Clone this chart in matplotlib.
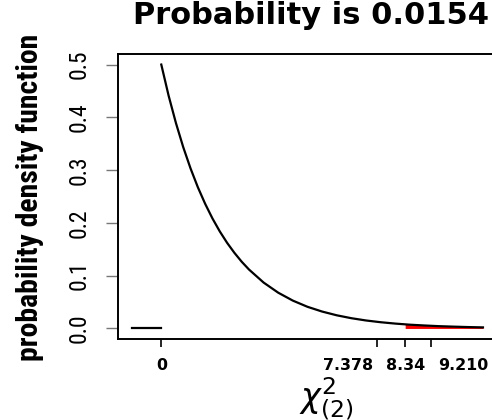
import matplotlib
matplotlib.use("Agg")
import matplotlib.pyplot as plt
from matplotlib.transforms import blended_transform_factory

# chi-square(2) density, read at a set of points along the curve
curve_x = [0.0, 0.25, 0.5, 0.75, 1.0, 1.25, 1.5, 1.75, 2.0, 2.25, 2.5, 2.75,
           3.0, 3.5, 4.0, 4.5, 5.0, 5.5, 6.0, 6.5, 7.0, 7.5, 8.0, 8.5,
           9.0, 9.5, 10.0, 10.5, 11.0]
curve_y = [0.5, 0.4412, 0.3894, 0.3436, 0.3033, 0.2676, 0.2362, 0.2084,
           0.1839, 0.1623, 0.1433, 0.1264, 0.1116, 0.0869, 0.0677, 0.0527,
           0.0410, 0.0320, 0.0249, 0.0194, 0.0151, 0.0118, 0.0092, 0.0071,
           0.0056, 0.0043, 0.0034, 0.0026, 0.0020]

# zero density to the left of the support
left_x = [-1.0, 0.0]
left_y = [0.0, 0.0]

# shaded upper tail starting at the observed statistic
stat = 8.34
stat_density = 0.0077
prob = 0.0154

tick_vals = [0, 7.378, 8.34, 9.210]
tick_text = ["0", "7.378", "8.34", "9.210"]
label_shift = [0, -1.0, 0, 1.1]   # nudge crowded labels apart

yticks = [0.0, 0.1, 0.2, 0.3, 0.4, 0.5]

NARROW = ["Roboto Condensed", "Liberation Sans Narrow", "Archivo Narrow", "DejaVu Sans"]

W, H = 492, 420
fig = plt.figure(figsize=(W / 100, H / 100), dpi=100)
ax = fig.add_axes([118 / W, 1 - 339 / H, (497 - 118) / W, (339 - 54) / H])

ax.plot(curve_x, curve_y, color="black", lw=1.6, zorder=3)
ax.plot(left_x, left_y, color="black", lw=1.6, zorder=3)

tail_x = [stat] + [x for x in curve_x if x > stat]
tail_y = [stat_density] + [y for x, y in zip(curve_x, curve_y) if x > stat]
ax.fill_between(tail_x, 0, tail_y, color="red", lw=0, zorder=2)

ax.set_xlim(-1.48, 11.48)
ax.set_ylim(-0.02, 0.52)

for side in ["left", "top", "bottom"]:
    ax.spines[side].set_linewidth(1.4)
ax.spines["right"].set_visible(False)

ax.set_yticks(yticks)
ax.set_yticklabels([f"{v:.1f}" for v in yticks], rotation=90, va="center",
                   family=NARROW, fontsize=17)
ax.tick_params(axis="y", direction="out", length=9, width=1.0,
               color="#777777", pad=11)

ax.set_xticks(tick_vals)
ax.set_xticklabels([])
ax.tick_params(axis="x", direction="out", length=6, width=1.2, color="black")

# tick labels drawn separately so the crowded ones can be shifted
lab_tr = blended_transform_factory(ax.transData, fig.transFigure)
for v, s, d in zip(tick_vals, tick_text, label_shift):
    ax.text(v + d, 1 - 370 / H, s, transform=lab_tr, clip_on=False,
            ha="center", va="baseline", fontsize=11.4, fontweight="bold",
            family="DejaVu Sans")

fig.text(311 / W, 1 - 24 / H, f"Probability is {prob}", ha="center",
         va="baseline", fontsize=22, fontweight="bold", family="DejaVu Sans")

fig.text(326 / W, 1 - 375 / H, r"$\chi^{2}_{(2)}$", ha="center", va="top",
         fontsize=24)

ylab = fig.text(30 / W, 1 - 197 / H, "probability density function",
                rotation=90, ha="center", va="center", fontweight="bold",
                family=NARROW, fontsize=24)

# stretch the rotated label to run the full height beside the axis
fig.canvas.draw()
bb = ylab.get_window_extent()
ylab.set_fontsize(ylab.get_fontsize() * 329 / bb.height)

fig.savefig("out.png", dpi=100)
